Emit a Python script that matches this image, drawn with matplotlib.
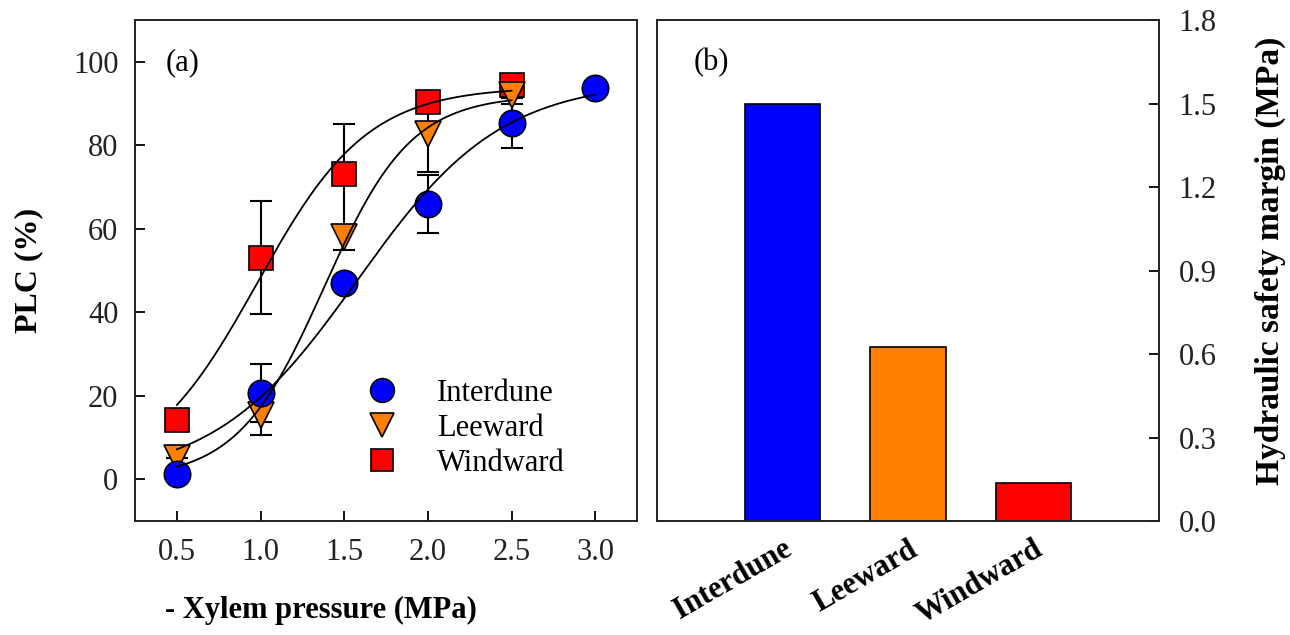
import numpy as np
import matplotlib
matplotlib.use('Agg')
from matplotlib import pyplot as plt

plt.rcParams['font.family'] = ['Liberation Serif', 'DejaVu Serif']

# panel (a): PLC vs xylem pressure
pressure = [0.5, 1.0, 1.5, 2.0, 2.5, 3.0]
plc_interdune = [1.3, 20.7, 46.9, 65.9, 85.3, 93.6]
err_interdune = [0, 7, 0, 7, 6, 0]
pressure_lw = [0.5, 1.0, 1.5, 2.0, 2.5]
plc_leeward = [5.0, 15.5, 58.0, 82.6, 92.0]
err_leeward = [0, 5, 3, 9, 2]
plc_windward = [14.2, 53.1, 73.0, 90.4, 94.4]
err_windward = [0, 13.5, 12, 2, 2]

# panel (b): hydraulic safety margin
sites = ['Interdune', 'Leeward', 'Windward']
hsm = [1.5, 0.625, 0.135]
colors = ['#0000FF', '#FF8000', '#FF0000']


def fit_sigmoid(x, y):
    # plain grid search for y = a / (1 + exp(-(x - x0) / b))
    x = np.asarray(x)[:, None, None, None]
    y = np.asarray(y)[:, None, None, None]
    A = np.linspace(80, 110, 61)[None, :, None, None]
    X0 = np.linspace(0.5, 2.5, 201)[None, None, :, None]
    B = np.linspace(0.05, 1.0, 96)[None, None, None, :]
    sse = ((A / (1 + np.exp(-(x - X0) / B)) - y) ** 2).sum(axis=0)
    i, j, k = np.unravel_index(np.argmin(sse), sse.shape)
    return A[0, i, 0, 0], X0[0, 0, j, 0], B[0, 0, 0, k]


fig = plt.figure(figsize=(12.9, 6.35), dpi=100)
ax1 = fig.add_axes([0.1047, 0.1795, 0.3891, 0.789])
ax2 = fig.add_axes([0.5093, 0.1795, 0.3891, 0.789])

series = [
    ('Interdune', pressure, plc_interdune, err_interdune, 'o', colors[0], 19, 6),
    ('Leeward', pressure_lw, plc_leeward, err_leeward, 'v', colors[1], 19, 5),
    ('Windward', pressure_lw, plc_windward, err_windward, 's', colors[2], 17, 4),
]
for name, xs, ys, es, mk, c, ms, z in series:
    ax1.errorbar(xs, ys, yerr=es, fmt='none', ecolor='black', elinewidth=1.5,
                 capsize=8, capthick=1.5, zorder=2)
    ax1.plot(xs, ys, linestyle='none', marker=mk, markersize=ms, markerfacecolor=c,
             markeredgecolor='black', markeredgewidth=1.2, label=name, zorder=z)
    a, x0, b = fit_sigmoid(xs, ys)
    xx = np.linspace(xs[0], xs[-1], 200)
    ax1.plot(xx, a / (1 + np.exp(-(xx - x0) / b)), color='black', lw=1.3, zorder=7)

ax1.set_xlim(0.25, 3.25)
ax1.set_ylim(-10, 110)
ax1.set_xticks([0.5, 1.0, 1.5, 2.0, 2.5, 3.0])
ax1.set_yticks([0, 20, 40, 60, 80, 100])
ax1.tick_params(direction='in', length=7, width=1.3, labelsize=22, pad=12, labelcolor='#222222')
ax1.set_xlabel('- Xylem pressure (MPa)', fontsize=22, fontweight='bold')
ax1.xaxis.set_label_coords(0.37, -0.15)
ax1.set_ylabel('PLC (%)', fontsize=23, fontweight='bold')
ax1.yaxis.set_label_coords(-0.183, 0.5)
ax1.text(0.06, 0.915, '(a)', transform=ax1.transAxes, fontsize=22, va='center')
ax1.legend(loc='lower left', bbox_to_anchor=(0.4, 0.055), frameon=False, fontsize=22,
           handletextpad=0.8, labelspacing=0.2, borderpad=0, markerscale=0.9)

# bars
xpos = np.arange(len(sites))
ax2.bar(xpos, hsm, width=0.6, color=colors, edgecolor='black', linewidth=1.2)
ax2.set_xlim(-1, 3)
ax2.set_ylim(0, 1.8)
ax2.set_yticks([0.0, 0.3, 0.6, 0.9, 1.2, 1.5, 1.8])
ax2.set_yticklabels(['%.1f' % v for v in [0.0, 0.3, 0.6, 0.9, 1.2, 1.5, 1.8]])
ax2.yaxis.tick_right()
ax2.yaxis.set_label_position('right')
ax2.set_xticks(xpos)
ax2.set_xticklabels(sites, rotation=30, ha='right', va='top', rotation_mode='anchor',
                    fontsize=22, fontweight='bold')
ax2.tick_params(axis='x', length=0, pad=10)
ax2.tick_params(axis='y', direction='in', length=7, width=1.3, labelsize=22, pad=14,
                labelcolor='#222222')
ax2.set_ylabel('Hydraulic safety margin (MPa)', fontsize=24, fontweight='bold')
ax2.yaxis.set_label_coords(1.19, 0.52)
ax2.text(0.072, 0.915, '(b)', transform=ax2.transAxes, fontsize=22, va='center')

for ax in (ax1, ax2):
    for s in ax.spines.values():
        s.set_linewidth(1.4)
        s.set_color('#222222')

fig.savefig('out.png', dpi=100)
